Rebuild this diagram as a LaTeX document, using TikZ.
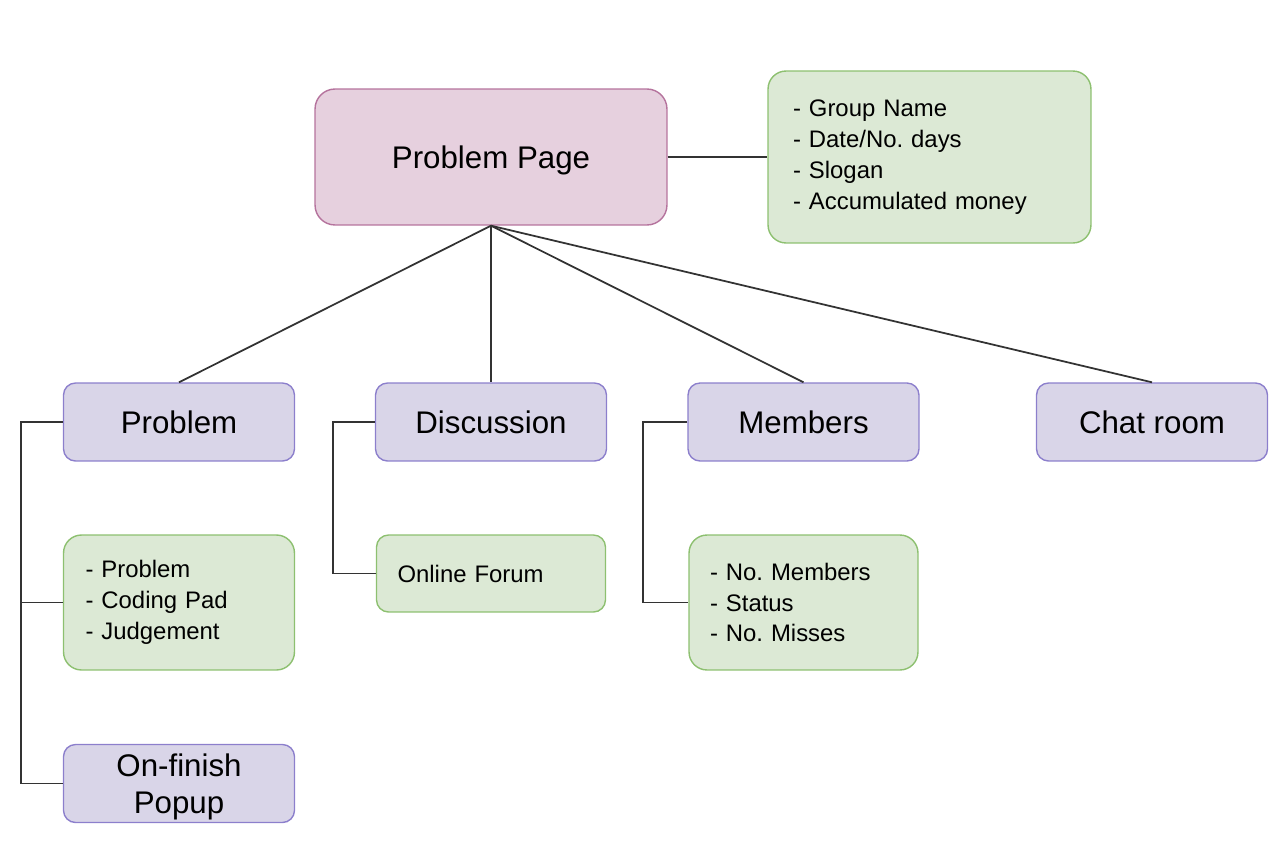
\documentclass[tikz,border=0pt]{standalone}
\usepackage{fontspec}
\setmainfont{Liberation Sans}
\usetikzlibrary{positioning}
\definecolor{pagefill}{HTML}{E6D0DE}
\definecolor{pageline}{HTML}{B5739D}
\definecolor{tabfill}{HTML}{D9D5E8}
\definecolor{tabline}{HTML}{8C7FCC}
\definecolor{notefill}{HTML}{DCE9D5}
\definecolor{noteline}{HTML}{8DC070}
\newcommand{\bigtxt}{\fontsize{17.8}{21}\selectfont}
\newcommand{\smalltxt}{\fontsize{13.6}{17.6}\selectfont}
\frenchspacing
\tikzset{
    page/.style = {draw=pageline, fill=pagefill, line width=0.8pt,
        rounded corners=0.4cm, minimum width=7.04cm, text depth=0pt,
        minimum height=2.72cm, font=\bigtxt},
    tab/.style = {draw=tabline, fill=tabfill, line width=0.8pt,
        rounded corners=0.24cm, minimum width=4.62cm, text depth=0pt,
        minimum height=1.56cm, inner sep=0pt, align=center, font=\bigtxt},
    note/.style = {draw=noteline, fill=notefill, line width=0.8pt,
        rounded corners=0.36cm, inner ysep=0pt, inner xsep=0.44cm,
        align=left, font=\smalltxt},
    link/.style = {draw=black!80, line width=1pt}
}

\begin{document}
\begin{tikzpicture}[x=0.02cm, y=-0.02cm]
    \useasboundingbox (0,0) rectangle (1288,862);
    % top level
    \node [page] (page) at (491,157) {Problem Page};
    \node [note, text width=5.46cm, minimum height=3.44cm, inner xsep=0.5cm] (info) at (929.5,157)
        {- Group Name\\- Date/No. days\\- Slogan\\- Accumulated money};
    \draw [link] (page.east) -- (info.west);
    % tabs
    \node [tab] (problem) at (179,422) {Problem};
    \node [tab] (discussion) at (491,422) {Discussion};
    \node [tab] (members) at (803.5,422) {Members};
    \node [tab] (chat) at (1152,422) {Chat room};
    \foreach \t in {problem,discussion,members,chat}{
        \draw [link] (page.south) -- (\t.north);
    }
    % content of the tabs
    \node [note, text width=3.74cm, minimum height=2.7cm] (probnote) at (179,602.5)
        {- Problem\\- Coding Pad\\- Judgement};
    \node [tab] (finish) at (179,783.5) {On-finish\\Popup};
    \node [note, text width=3.74cm, minimum height=1.54cm, rounded corners=0.24cm,
        inner xsep=0.42cm] (forum) at (491,573.5) {Online Forum};
    \node [note, text width=3.74cm, minimum height=2.7cm, inner xsep=0.42cm] (memnote) at (803.5,602.5)
        {- No. Members\\- Status\\- No. Misses};
    \draw [link] (problem.west) -- ++(-42,0) |- (finish.west);
    \draw [link] (problem.west) ++(-42,0) |- (probnote.west);
    \draw [link] (discussion.west) -- ++(-42,0) |- (forum.west);
    \draw [link] (members.west) -- ++(-44,0) |- (memnote.west);
\end{tikzpicture}
\end{document}
